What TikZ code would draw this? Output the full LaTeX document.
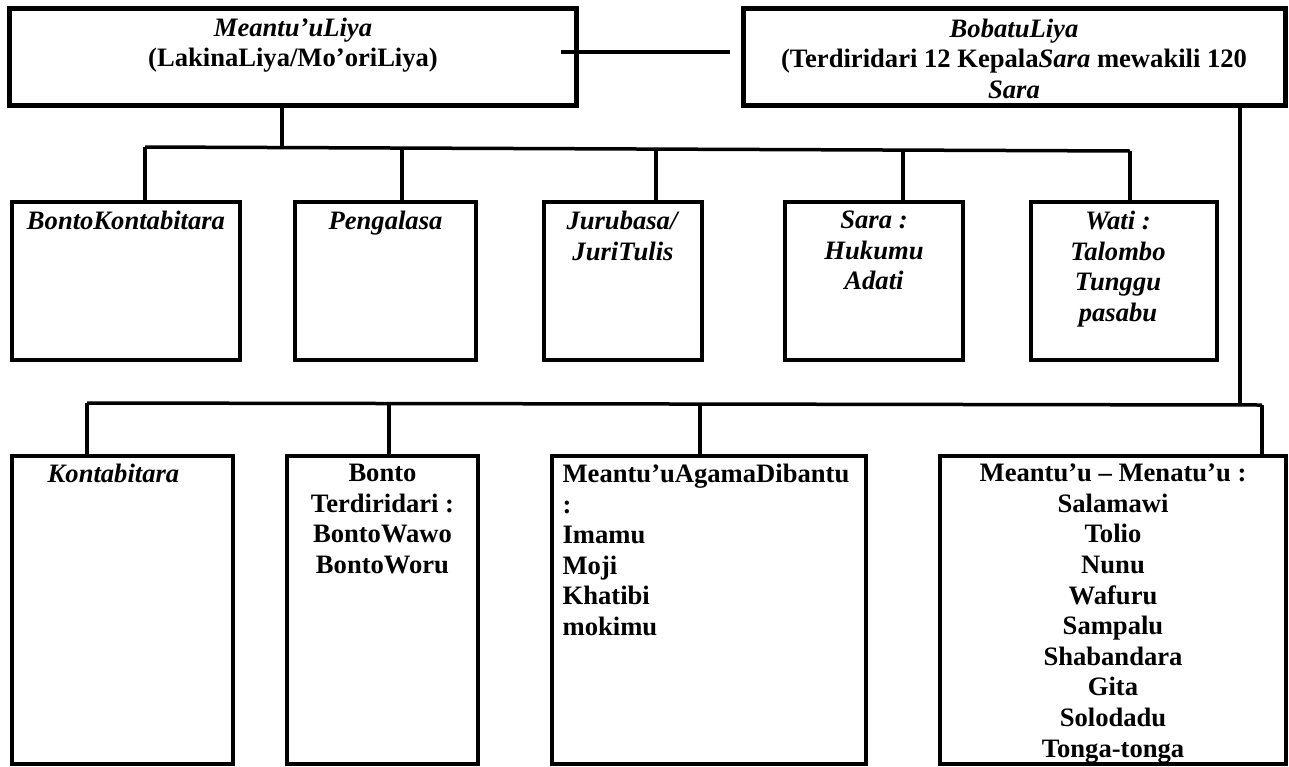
\documentclass[tikz,border=0pt]{standalone}
\usepackage{fontspec}
\setmainfont{Liberation Serif}
\usetikzlibrary{positioning}
\tikzset{
  bigbox/.style={draw, line width=2.5pt, inner sep=0pt, minimum height=48.5pt},
  midbox/.style={draw, line width=1.8pt, inner sep=0pt, minimum height=79pt},
  lowbox/.style={draw, line width=1.8pt, inner sep=0pt, minimum height=154pt},
  txt/.style={align=center, inner sep=0pt, font=\fontsize{13.3}{15.3}\selectfont\bfseries},
  link/.style={line width=1.75pt},
}
\begin{document}
\begin{tikzpicture}[x=0.5pt, y=-0.5pt]
  \useasboundingbox (0,0) rectangle (1289,766);
  % top level
  \node[bigbox, minimum width=283.5pt] (liya) at (293,56.5) {};
  \node[bigbox, minimum width=271pt] (bobatu) at (1014,56.5) {};
  \node[txt, below=6pt of liya.north] (liyat) {\textit{Meantu’uLiya}\\(LakinaLiya/Mo’oriLiya)};
  \node[txt, below=6.5pt of bobatu.north] (bobatut) {\textit{BobatuLiya}\\(Terdiridari 12 Kepala\textit{Sara} mewakili 120\\\textit{Sara}};
  \draw[link] ([xshift=-9.25pt,yshift=2.25pt]liya.east) -- ([xshift=-5.25pt,yshift=2.25pt]bobatu.west);

  % middle row
  \node[midbox, minimum width=114pt] (bkont) at (126,281) {};
  \node[midbox, minimum width=90.5pt] (pengal) at (385.5,281) {};
  \node[midbox, minimum width=79pt] (juru) at (623,281) {};
  \node[midbox, minimum width=89pt] (sara) at (874,281) {};
  \node[midbox, minimum width=93pt] (wati) at (1124,281) {};
  \node[txt, below=5.2pt of bkont.north] (bkontt) {\textit{BontoKontabitara}};
  \node[txt, below=5.2pt of pengal.north] (pengalt) {\textit{Pengalasa}};
  \node[txt, below=5.2pt of juru.north] (jurut) {\textit{Jurubasa/}\\\textit{JuriTulis}};
  \node[txt, below=5.2pt of sara.north] (sarat) {\textit{Sara :}\\\textit{Hukumu}\\\textit{Adati}};
  \node[txt, below=5.2pt of wati.north, xshift=-3pt] (watit) {\textit{Wati :}\\\textit{Talombo}\\\textit{Tunggu}\\\textit{pasabu}};

  \coordinate (t1) at (282,147.5);
  \coordinate (b1) at (145,147); \coordinate (b2) at (402,148); \coordinate (b3) at (656,149);
  \coordinate (b4) at (903,150); \coordinate (b5) at (1130,151);
  \draw[link] (liya.south -| t1) -- (t1);
  \draw[link] (b1) -- (b5);
  \foreach \c/\n in {b1/bkont, b2/pengal, b3/juru, b4/sara, b5/wati}
    \draw[link] (\c) -- (\c |- \n.north);

  % bottom row
  \node[lowbox, minimum width=110.5pt] (kontab) at (122.5,610) {};
  \node[lowbox, minimum width=95.5pt] (bonto) at (382.5,610) {};
  \node[lowbox, minimum width=157pt] (agama) at (709,610) {};
  \node[lowbox, minimum width=173pt] (menatu) at (1113,610) {};
  \node[txt, below=4.7pt of kontab.north, xshift=-4.5pt] (kontabt) {\textit{Kontabitara}};
  \node[txt, below=4.7pt of bonto.north] (bontot) {Bonto\\Terdiridari :\\BontoWawo\\BontoWoru};
  \node[txt, align=left, below right=4.7pt and 6pt of agama.north west] (agamat) {Meantu’uAgamaDibantu\\:\\Imamu\\Moji\\Khatibi\\mokimu};
  \node[txt, below=4.7pt of menatu.north] (menatut) {Meantu’u – Menatu’u :\\Salamawi\\Tolio\\Nunu\\Wafuru\\Sampalu\\Shabandara\\Gita\\Solodadu\\Tonga-tonga};

  \coordinate (t2) at (1240,404);
  \coordinate (c1) at (87,403); \coordinate (c2) at (389,403.5);
  \coordinate (c3) at (700,404); \coordinate (c4) at (1262,405);
  \draw[link] (bobatu.south -| t2) -- (t2);
  \draw[link] (c1) -- (c4);
  \foreach \c/\n in {c1/kontab, c2/bonto, c3/agama, c4/menatu}
    \draw[link] (\c) -- (\c |- \n.north);
\end{tikzpicture}
\end{document}
